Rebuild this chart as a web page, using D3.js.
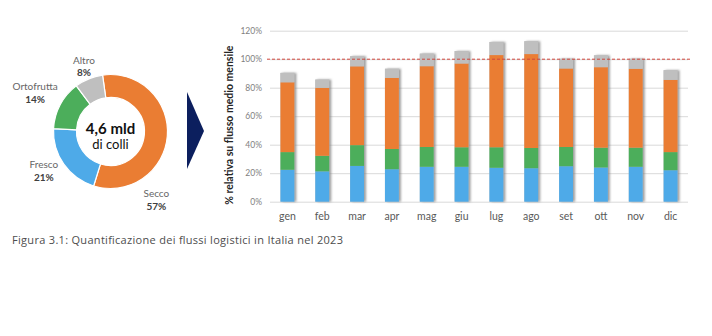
<!DOCTYPE html>
<html>
<head>
<meta charset="utf-8">
<script src="https://cdn.jsdelivr.net/npm/d3@7"></script>
<style>
  html, body { margin: 0; padding: 0; background: #ffffff; }
  svg { display: block; }
</style>
</head>
<body>
<svg id="chart" width="712" height="336"></svg>
<script>
// ---- Data ----
const shareNames = ["Secco", "Fresco", "Ortofrutta", "Altro"];
const shareValues = [57, 21, 14, 8];
const totalLabel = ["4,6 mld", "di colli"];

const months = ["gen", "feb", "mar", "apr", "mag", "giu", "lug", "ago", "set", "ott", "nov", "dic"];
const fresco     = [22.4, 21.3, 25.1, 22.8, 24.5, 24.5, 23.8, 23.5, 24.9, 24.0, 24.5, 22.1];
const ortofrutta = [12.4, 10.9, 14.6, 14.2, 13.9, 13.7, 14.4, 14.2, 13.5, 13.9, 13.4, 12.7];
const secco      = [49.0, 47.7, 55.3, 49.9, 56.7, 58.8, 64.7, 65.9, 55.1, 56.5, 55.4, 50.7];
const altro      = [6.6, 5.8, 7.1, 6.4, 8.8, 8.7, 9.2, 9.0, 6.8, 8.3, 7.0, 6.8];
const yTicks = [0, 20, 40, 60, 80, 100, 120];
const referenceLevel = 100;
const caption = "Figura 3.1: Quantificazione dei flussi logistici in Italia nel 2023";

// ---- Styles ----
const colors = { Secco: "#ea7d33", Fresco: "#4eaae8", Ortofrutta: "#4cae5b", Altro: "#bfbfbf" };
const font = "Lato, 'Open Sans', sans-serif";

const svg = d3.select("#chart");
const defs = svg.append("defs");
const shadow = defs.append("filter").attr("id", "barShadow")
  .attr("x", "-30%").attr("y", "-10%").attr("width", "160%").attr("height", "120%");
shadow.append("feDropShadow").attr("dx", 2).attr("dy", 0).attr("stdDeviation", 0.8)
  .attr("flood-color", "#7f7f7f").attr("flood-opacity", 0.75);

// ---- Donut ----
const cx = 110.5, cy = 131.5, rOuter = 57, rInner = 34;
const startRad = -8 * Math.PI / 180;
const pie = d3.pie().sort(null).startAngle(startRad).endAngle(startRad + 2 * Math.PI);
const arcs = pie(shareValues);
const arc = d3.arc().innerRadius(rInner).outerRadius(rOuter);

const donut = svg.append("g").attr("transform", `translate(${cx},${cy})`);
donut.selectAll("path").data(arcs).join("path")
  .attr("d", arc)
  .attr("fill", (d, i) => colors[shareNames[i]])
  .attr("stroke", "#ffffff").attr("stroke-width", 1.2);

// label placement around the ring: angle in degrees (clockwise from top), distance from centre
const labelPlacement = [
  { angle: 146, dist: 82 },
  { angle: 240, dist: 77 },
  { angle: 297.5, dist: 85 },
  { angle: 338, dist: 71 }
];
arcs.forEach((d, i) => {
  const p = labelPlacement[i];
  const a = p.angle * Math.PI / 180;
  const lx = Math.sin(a) * p.dist, ly = -Math.cos(a) * p.dist;
  const t = donut.append("text").attr("x", lx).attr("y", ly)
    .attr("text-anchor", "middle").attr("font-family", font).attr("font-size", 10);
  t.append("tspan").attr("x", lx).attr("dy", -2).attr("fill", "#666666").text(shareNames[i]);
  t.append("tspan").attr("x", lx).attr("dy", 12.5).attr("fill", "#404040")
    .attr("font-weight", "bold").text(d.data + "%");
});

donut.append("text").attr("text-anchor", "middle").attr("y", 2)
  .attr("font-family", font).attr("font-size", 15).attr("font-weight", "bold")
  .attr("fill", "#111111").text(totalLabel[0]);
donut.append("text").attr("text-anchor", "middle").attr("y", 17)
  .attr("font-family", font).attr("font-size", 13)
  .attr("fill", "#111111").text(totalLabel[1]);

// ---- Chevron between the two panels ----
svg.append("path")
  .attr("d", d3.line()([[187, 92], [204, 131], [187, 169]]) + "Z")
  .attr("fill", "#0c1f5e");

// ---- Stacked bars ----
const plot = { left: 270, right: 688, top: 30.7, bottom: 201.7 };
const x = d3.scaleBand().domain(months).range([plot.left, plot.right])
  .paddingInner(0.6).paddingOuter(0.3);
const y = d3.scaleLinear().domain([0, 120]).range([plot.bottom, plot.top]);

const rows = months.map((m, i) => ({
  month: m, Fresco: fresco[i], Ortofrutta: ortofrutta[i], Secco: secco[i], Altro: altro[i]
}));
const stackKeys = ["Fresco", "Ortofrutta", "Secco", "Altro"];
const series = d3.stack().keys(stackKeys)(rows);

// grid
const yAxis = d3.axisLeft(y).tickValues(yTicks).tickFormat(d => d + "%")
  .tickSize(-(plot.right - plot.left)).tickPadding(8);
const gy = svg.append("g").attr("transform", `translate(${plot.left},0)`).call(yAxis);
gy.select(".domain").remove();
gy.selectAll(".tick line").attr("stroke", "#d9d9d9").attr("stroke-width", 1);
gy.selectAll(".tick text").attr("fill", "#7f7f7f").attr("font-family", font).attr("font-size", 8.5);

const barsG = svg.append("g");
// shadow layer per bar
barsG.selectAll("rect.sh").data(rows).join("rect").attr("class", "sh")
  .attr("x", d => x(d.month))
  .attr("width", x.bandwidth())
  .attr("y", d => y(d.Fresco + d.Ortofrutta + d.Secco + d.Altro))
  .attr("height", d => y(0) - y(d.Fresco + d.Ortofrutta + d.Secco + d.Altro))
  .attr("fill", "#bfbfbf").attr("filter", "url(#barShadow)");

barsG.selectAll("g.layer").data(series).join("g").attr("class", "layer")
  .attr("fill", d => colors[d.key])
  .selectAll("rect").data(d => d).join("rect")
  .attr("x", d => x(d.data.month))
  .attr("width", x.bandwidth())
  .attr("y", d => y(d[1]))
  .attr("height", d => y(d[0]) - y(d[1]));

// reference line at the monthly mean
svg.append("line")
  .attr("x1", plot.left - 3).attr("x2", plot.right + 2)
  .attr("y1", y(referenceLevel)).attr("y2", y(referenceLevel))
  .attr("stroke", "#d0453a").attr("stroke-width", 1).attr("stroke-dasharray", "3,2");

// x labels
const xAxis = d3.axisBottom(x).tickSize(0).tickPadding(11);
const gx = svg.append("g").attr("transform", `translate(0,${plot.bottom})`).call(xAxis);
gx.select(".domain").remove();
gx.selectAll(".tick text").attr("fill", "#595959").attr("font-family", font).attr("font-size", 10.5);

// y title
svg.append("text")
  .attr("transform", `translate(233,${(plot.top + plot.bottom) / 2 + 9}) rotate(-90)`)
  .attr("text-anchor", "middle").attr("font-family", font).attr("font-size", 10.5)
  .attr("font-weight", "bold").attr("fill", "#262626")
  .text("% relativa su flusso medio mensile");

// caption
svg.append("text").attr("x", 12).attr("y", 244)
  .attr("font-family", "'Open Sans', sans-serif").attr("font-size", 11)
  .attr("textLength", 331).attr("lengthAdjust", "spacing")
  .attr("fill", "#4d4d4d").text(caption);
</script>
</body>
</html>
